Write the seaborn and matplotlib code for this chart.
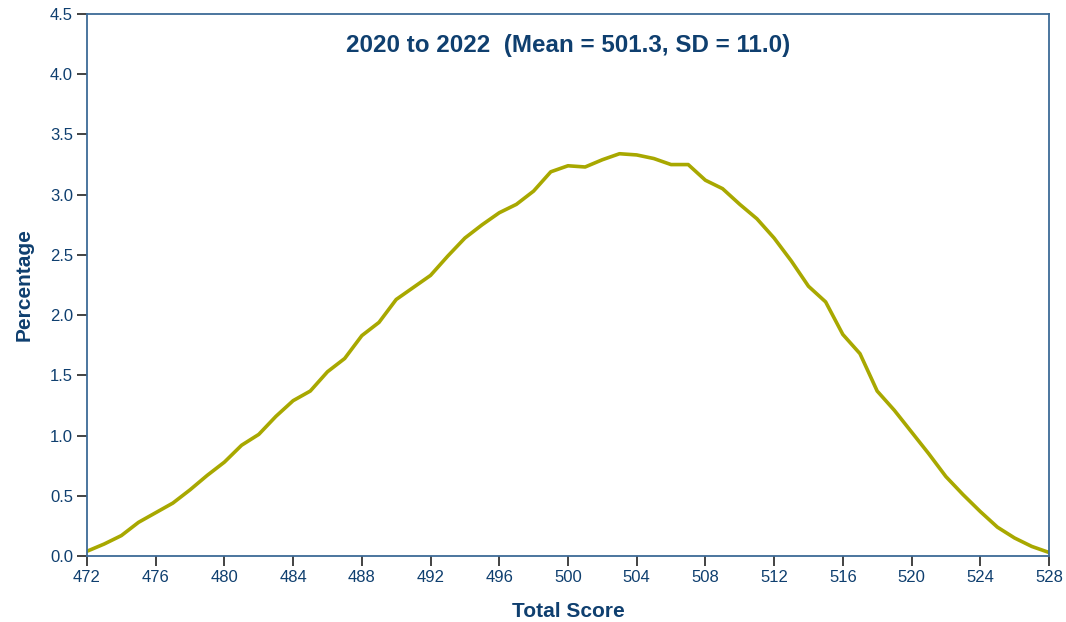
import numpy as np
import pandas as pd
import matplotlib
matplotlib.use("Agg")
import matplotlib.pyplot as plt
import seaborn as sns

sns.set_style("white")
plt.rcParams['font.family'] = ['Liberation Sans', 'DejaVu Sans']

# distribution of total scores, 2020 to 2022
scores = list(range(472, 529))
percent = [0.04, 0.10, 0.17, 0.28, 0.36, 0.44, 0.55, 0.67, 0.78, 0.92,
           1.01, 1.16, 1.29, 1.37, 1.53, 1.64, 1.83, 1.94, 2.13, 2.23,
           2.33, 2.49, 2.64, 2.75, 2.85, 2.92, 3.03, 3.19, 3.24, 3.23,
           3.29, 3.34, 3.33, 3.30, 3.25, 3.25, 3.12, 3.05, 2.92, 2.80,
           2.64, 2.45, 2.24, 2.11, 1.84, 1.68, 1.37, 1.21, 1.03, 0.85,
           0.66, 0.51, 0.37, 0.24, 0.15, 0.08, 0.03]
x_ticks = list(range(472, 529, 4))
y_ticks = [0.0, 0.5, 1.0, 1.5, 2.0, 2.5, 3.0, 3.5, 4.0, 4.5]
title = "2020 to 2022  (Mean = 501.3, SD = 11.0)"

navy = "#0f3f6f"
spine = "#3d6a96"
olive = "#a8a800"

df = pd.DataFrame({"score": scores, "pct": percent})

fig = plt.figure(figsize=(10.66, 6.22), dpi=100)
ax = fig.add_axes([0.0816, 0.106, 0.9024, 0.8715])
sns.lineplot(data=df, x="score", y="pct", color=olive, linewidth=2.6, ax=ax)

ax.set_xlim(472, 528)
ax.set_ylim(0, 4.5)
ax.set_xticks(x_ticks)
ax.set_yticks(y_ticks)
ax.set_yticklabels([f"{v:.1f}" for v in y_ticks])
ax.tick_params(axis="both", direction="out", length=7, width=1.2, color="#222222",
               labelsize=12, labelcolor=navy, pad=3, left=True, bottom=True)
for s in ax.spines.values():
    s.set_color(spine)
    s.set_linewidth(1.3)

ax.set_xlabel("Total Score", fontsize=15, fontweight="bold", color=navy, labelpad=12)
ax.set_ylabel("Percentage", fontsize=15, fontweight="bold", color=navy, labelpad=12)
ax.text(0.5, 0.942, title, transform=ax.transAxes, ha="center", va="center",
        fontsize=17.4, fontweight="bold", color=navy)

fig.savefig("out.png", dpi=100)
